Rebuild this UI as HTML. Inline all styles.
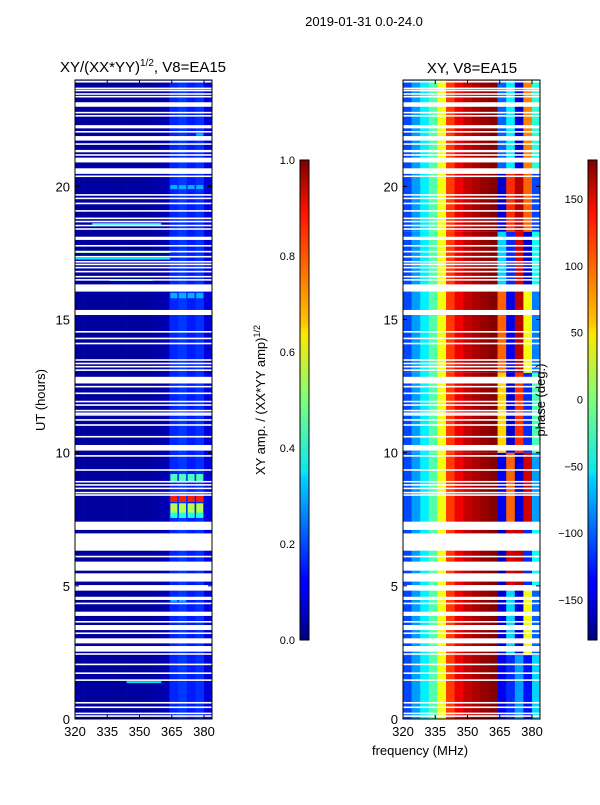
<!DOCTYPE html>
<html><head><meta charset="utf-8">
<style>
html,body{margin:0;padding:0;background:#fff;}
svg text{font-family:"Liberation Sans",sans-serif;fill:#000;}
</style></head>
<body>
<svg id="fig" width="600" height="800" viewBox="0 0 600 800" xmlns="http://www.w3.org/2000/svg">
<defs>
<linearGradient id="jet" x1="0" y1="1" x2="0" y2="0">
<stop offset="0" stop-color="#00007f"/><stop offset="0.11" stop-color="#0000ff"/><stop offset="0.125" stop-color="#0000ff"/>
<stop offset="0.34" stop-color="#00d4ff"/><stop offset="0.35" stop-color="#0ee4f0"/><stop offset="0.5" stop-color="#7dff7a"/>
<stop offset="0.64" stop-color="#ffe600"/><stop offset="0.66" stop-color="#ffc400"/><stop offset="0.89" stop-color="#ff1300"/><stop offset="1" stop-color="#7f0000"/>
</linearGradient>
<clipPath id="clipL"><rect x="75" y="80" width="137" height="639"/></clipPath>
<clipPath id="clipR"><rect x="403" y="80" width="137" height="639"/></clipPath>
</defs>
<text x="364" y="26" font-size="13" text-anchor="middle">2019-01-31 0.0-24.0</text>
<g id="ampPanel" clip-path="url(#clipL)"></g>
<g id="phasePanel" clip-path="url(#clipR)"></g>
<g id="axes"></g>
</svg>
<script>
// ---- data ----
const channels = [320,324,328,332,336,340,344,348,352,356,360,364,368,372,376,380]; // MHz start of each 4 MHz channel
const ampProfile = [0.03,0.03,0.03,0.03,0.03,0.03,0.03,0.03,0.03,0.04,0.05,0.16,0.18,0.15,0.17,0.09];
// [t0,t1,ch0,ch1,value]
const ampEvents = [
 [7.6,8.1,11,14,0.55],[8.15,8.4,11,14,0.85],[8.9,9.2,11,14,0.45],[7.55,7.75,11,14,0.4],
 [15.8,16.0,11,14,0.3],[19.9,20.05,11,14,0.3],[4.4,4.5,11,12,0.3],[21.9,22.0,14,14,0.3],
 [17.5,17.58,0,10,0.5],[17.25,17.32,0,10,0.35],[18.55,18.62,2,9,0.4],[16.45,16.5,4,8,0.35],[1.35,1.42,6,9,0.35]
];
const phaseProfile = [-110,-80,-50,-15,40,115,140,155,165,172,178];
// [t0,t1, phases for channels 11..15]
const phaseBlocks = [
 [0,2.4,[-140,-120,-80,-130,-60]],
 [2.4,5.0,[-150,-60,-150,40,-100]],
 [5.0,7.2,[-160,150,160,-120,-40]],
 [7.2,10.0,[-140,100,-150,150,-80]],
 [10.0,13.0,[60,-150,120,-120,-20]],
 [13.0,16.2,[100,-140,160,40,-90]],
 [16.2,18.3,[-60,-120,150,-150,-40]],
 [18.3,20.5,[-150,120,160,100,-110]],
 [20.5,24,[-100,-50,-150,90,-30]]
];
const flags = [
 [23.9,23.97],[23.65,23.71],[23.57,23.63],[23.44,23.5],[23.34,23.4],[22.99,23.16],[22.74,22.8],[22.62,22.68],[22.18,22.3],[22.02,22.08],
 [21.72,21.89],[21.56,21.62],[21.28,21.37],[21.15,21.21],[20.9,21.08],[20.47,20.68],[20.35,20.41],
 [19.65,19.71],[19.52,19.58],[19.33,19.39],[19.05,19.11],[18.77,18.83],[18.65,18.71],[18.5,18.56],[18.37,18.43],[17.99,18.11],
 [17.74,17.8],[17.52,17.58],[17.33,17.39],[17.14,17.2],[17.04,17.1],[16.92,16.98],[16.77,16.83],[16.58,16.64],[16.46,16.52],[16.05,16.32],
 [15.17,15.36],[14.51,14.57],[14.26,14.32],[14.07,14.13],[13.45,13.51],[13.32,13.38],[13.2,13.26],[13.07,13.13],[12.6,12.85],[12.45,12.51],[12.2,12.26],
 [11.89,11.95],[11.76,11.82],[11.55,11.61],[11.45,11.51],[11.39,11.45],[11.2,11.26],[11.01,11.07],[10.57,10.63],[10.08,10.29],[9.85,9.91],
 [9.32,9.38],[8.88,8.94],[8.76,8.82],[8.63,8.69],[8.47,8.53],[8.38,8.44],[7.1,7.41],[6.32,6.97],[6.07,6.13],[5.57,5.91],[5.16,5.47],[4.82,5.03],
 [4.47,4.59],[4.31,4.37],[3.87,4.03],[3.62,3.68],[3.34,3.53],[3.19,3.25],[2.84,3.03],[2.53,2.74],[2.41,2.47],[2.02,2.08],[1.69,1.75],[1.43,1.49],
 [0.58,0.64],[0.41,0.47],[0.18,0.24],[0.08,0.14]
];
const xTicks = [320,335,350,365,380];
const yTicks = [0,5,10,15,20];
const ampTicks = [0.0,0.2,0.4,0.6,0.8,1.0];
const phaseTicks = [-150,-100,-50,0,50,100,150];

// ---- scales ----
const NS="http://www.w3.org/2000/svg";
const xL = f => 75 + (f-320)*2.15;
const xR = f => 403 + (f-320)*2.15;
const yS = h => 719 - h*26.63;
const cbAmp = v => 640 - v*480;
const cbPh = d => 399.5 - d*1.3361;
function jet(v){v=Math.max(0,Math.min(1,v));
 const r=Math.max(0,Math.min(1,Math.min(4*v-1.5,-4*v+4.5)));
 const g=Math.max(0,Math.min(1,Math.min(4*v-0.5,-4*v+3.5)));
 const b=Math.max(0,Math.min(1,Math.min(4*v+0.5,-4*v+2.5)));
 return `rgb(${Math.round(r*255)},${Math.round(g*255)},${Math.round(b*255)})`;}
const phNorm = d => (d+180)/360;
function el(tag,attrs,parent){const e=document.createElementNS(NS,tag);for(const k in attrs)e.setAttribute(k,attrs[k]);parent.appendChild(e);return e;}

const ampG=document.getElementById('ampPanel');
const phG=document.getElementById('phasePanel');
const axG=document.getElementById('axes');

channels.forEach((c,i)=>{
 const r=el('rect',{x:xL(c),y:yS(24),width:4*2.15+0.3,height:yS(0)-yS(24),fill:jet(ampProfile[i])},ampG);
 
 
});
ampEvents.forEach(ev=>{
 for(let i=ev[2];i<=ev[3];i++){
  const r=el('rect',{x:xL(channels[i])+(i>10?0.8:0),y:yS(ev[1]),width:4*2.15-(i>10?1.6:-0.3),height:yS(ev[0])-yS(ev[1]),fill:jet(ev[4])},ampG);
  
  
 }
});
phaseBlocks.forEach(b=>{
 channels.forEach((c,i)=>{
  const d = i<11 ? phaseProfile[i] : b[2][i-11];
  const r=el('rect',{x:xR(c),y:yS(b[1]),width:4*2.15+0.3,height:yS(b[0])-yS(b[1]),fill:jet(phNorm(d))},phG);
  
  
 });
});
[[ampG,xL],[phG,xR]].forEach(([g,xf])=>{
 flags.forEach(f=>{
  const r=el('rect',{x:xf(320),y:yS(f[1]),width:140,height:yS(f[0])-yS(f[1]),fill:'#fff'},g);
  
  
 });
});

[[75,xL],[403,xR]].forEach(([x0,xf],pi)=>{
 const fr=el('rect',{x:x0,y:80,width:137,height:639,fill:'none',stroke:'#000','stroke-width':1},axG);
 
 
 xTicks.forEach(t=>{
  el('line',{x1:xf(t),x2:xf(t),y1:719,y2:715,stroke:'#000'},axG);
  el('line',{x1:xf(t),x2:xf(t),y1:80,y2:84,stroke:'#000'},axG);
  const tx=el('text',{x:xf(t),y:736,'font-size':13,'text-anchor':'middle'},axG);
  tx.textContent=t;
  
  
 });
 yTicks.forEach(t=>{
  el('line',{x1:x0,x2:x0+4,y1:yS(t),y2:yS(t),stroke:'#000'},axG);
  el('line',{x1:x0+133,x2:x0+137,y1:yS(t),y2:yS(t),stroke:'#000'},axG);
  const tx=el('text',{x:x0-5,y:yS(t)+5,'font-size':13,'text-anchor':'end'},axG);
  tx.textContent=t;
  
  
 });
});
const cb1=el('rect',{x:300,y:160,width:9,height:480,fill:'url(#jet)',stroke:'#000','stroke-width':1},axG);


const cb2=el('rect',{x:588,y:160,width:9,height:480,fill:'url(#jet)',stroke:'#000','stroke-width':1},axG);


ampTicks.forEach(t=>{
 const tx=el('text',{x:295,y:cbAmp(t)+4,'font-size':11,'text-anchor':'end'},axG);
 tx.textContent=t.toFixed(1);
 
 
});
phaseTicks.forEach(t=>{
 const tx=el('text',{x:583,y:cbPh(t)+4,'font-size':11,'text-anchor':'end'},axG);
 tx.textContent=t<0?'\u2212'+(-t):String(t);
 
 
});
</script>
<svg style="position:absolute;left:0;top:0" width="600" height="800">
<text x="143" y="72" font-size="15" text-anchor="middle">XY/(XX*YY)<tspan font-size="10" dy="-6">1/2</tspan><tspan dy="6">, V8=EA15</tspan></text>
<text x="472" y="73" font-size="15" text-anchor="middle">XY, V8=EA15</text>
<text x="45" y="400" font-size="13" text-anchor="middle" transform="rotate(-90 45 400)">UT (hours)</text>
<text x="420" y="755" font-size="13" text-anchor="middle">frequency (MHz)</text>
<text x="265" y="400" font-size="13" text-anchor="middle" transform="rotate(-90 265 400)">XY amp. / (XX*YY amp)<tspan font-size="9" dy="-5">1/2</tspan></text>
<text x="545" y="400" font-size="13" text-anchor="middle" transform="rotate(-90 545 400)">phase (deg.)</text>
</svg>
</body></html>
